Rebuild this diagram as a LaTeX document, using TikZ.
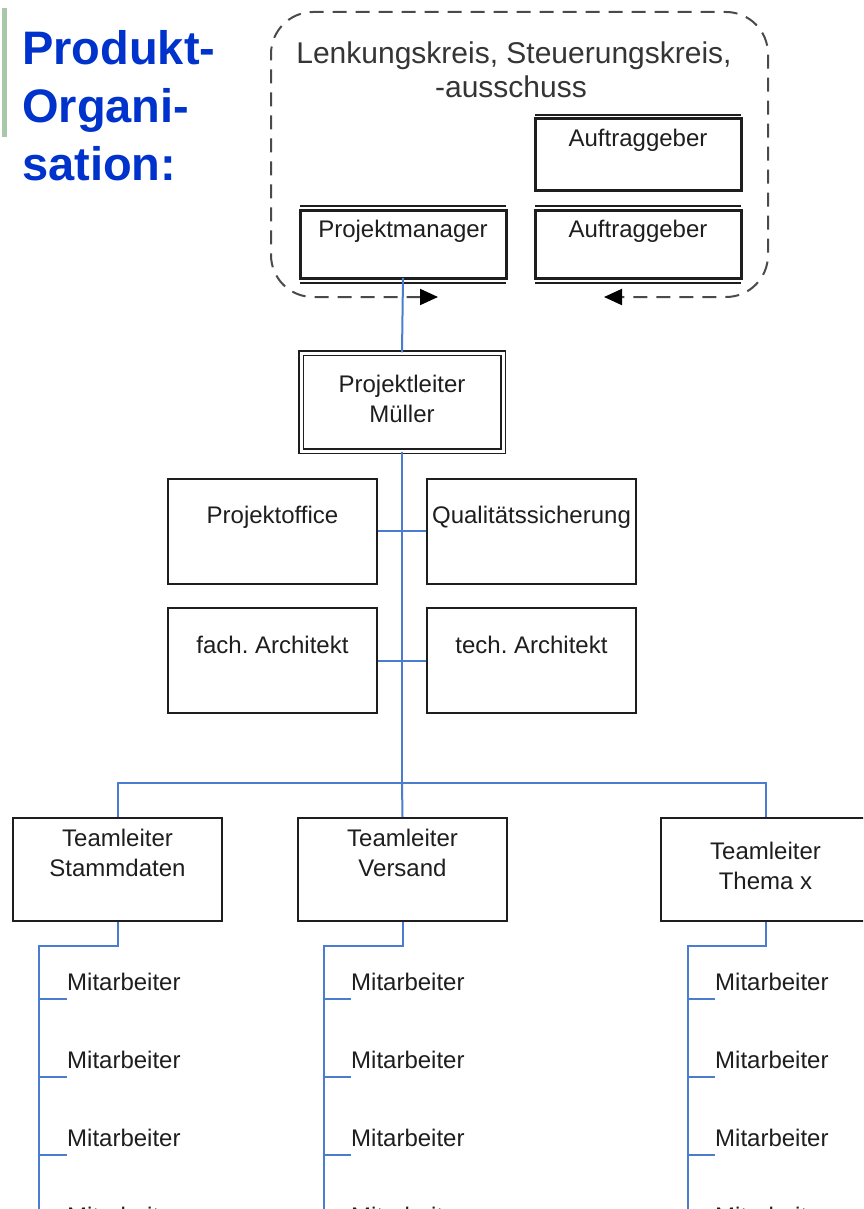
\documentclass[tikz,border=0pt]{standalone}
\usepackage{fontspec}
\setmainfont{Liberation Sans}
\usetikzlibrary{arrows.meta,calc}
\definecolor{ink}{HTML}{1E1E1E}
\definecolor{tieblue}{HTML}{4A7DD0}
\definecolor{titleblue}{HTML}{0033CC}
\definecolor{bargreen}{HTML}{A8C8A8}
\definecolor{dashgray}{HTML}{4A4A4A}
\frenchspacing

\begin{document}
\begin{tikzpicture}[x=1pt,y=-1pt,
  every node/.style={text=ink, font=\fontsize{24}{30}\selectfont},
  orgbox/.style={draw=ink, line width=2pt, minimum width=209pt, minimum height=105pt, inner sep=0pt},
  sponsorbox/.style={draw=ink, line width=3pt, minimum width=206pt, outer sep=0pt, inner sep=0pt},
  leadbox/.style={draw=ink, double, double distance=3pt, line width=1.4pt, minimum width=202pt, minimum height=98pt, inner sep=0pt},
  thinrule/.style={draw=ink, line width=1.5pt},
  tie/.style={draw=tieblue, line width=2pt},
  lbl/.style={anchor=base, inner sep=0pt},
  twolines/.style={align=center, inner sep=0pt},
  staffname/.style={anchor=south west, inner xsep=0pt, inner ysep=8pt, text depth=0pt},
  headline/.style={text=titleblue, font=\fontsize{47}{58}\selectfont\bfseries, anchor=base west, inner sep=0pt},
  steering/.style={draw=dashgray, line width=2pt, dash pattern=on 14pt off 9pt, rounded corners=42pt},
  flowtip/.style={Triangle[length=18pt,width=16pt,color=black]}
]
\clip (0,0) rectangle (863,1209);
\fill[white] (0,0) rectangle (863,1209);

% heading with its side bar
\fill[bargreen] (2,8) rectangle (7,137);
\node[headline] (h1) at (22,65) {Produkt-};
\node[headline] (h2) at (22,123) {Organi-};
\node[headline] (h3) at (22,181) {sation:};

% steering committee
\draw[steering, {Triangle[length=18pt,width=16pt,color=black]}-{Triangle[length=18pt,width=16pt,color=black]}]
  (438,297) -- (271,297) -- (271,12) -- (768,12) -- (768,297) -- (604,297);
\node[lbl, font=\fontsize{30}{34}\selectfont, text=ink!90] (sk1) at (514,64) {Lenkungskreis, Steuerungskreis,};
\node[lbl, font=\fontsize{30}{34}\selectfont, text=ink!90] (sk2) at (511,98) {-ausschuss};

\node[sponsorbox, minimum height=72pt] (ag1) at (638,155) {};
\draw[thinrule] ($(ag1.north west)+(0,-4)$) -- ($(ag1.north east)+(0,-4)$);
\node[lbl] (ag1t) at (638,147) {Auftraggeber};

\node[sponsorbox, minimum height=68pt] (ag2) at (638,244) {};
\draw[thinrule] ($(ag2.north west)+(0,-4)$) -- ($(ag2.north east)+(0,-4)$);
\draw[thinrule] ($(ag2.south west)+(0,5)$) -- ($(ag2.south east)+(0,5)$);
\node[lbl] (ag2t) at (638,237) {Auftraggeber};

\node[sponsorbox, minimum height=68pt] (pm) at (403,244) {};
\draw[thinrule] ($(pm.north west)+(0,-4)$) -- ($(pm.north east)+(0,-4)$);
\draw[thinrule] ($(pm.south west)+(0,5)$) -- ($(pm.south east)+(0,5)$);
\node[lbl] (pmt) at (403,237) {Projektmanager};

% project lead
\node[leadbox] (pl) at (402,402) {};
\node[twolines] (plt) at (402,399) {Projektleiter\\Müller};

% staff functions
\node[orgbox] (po) at (272.5,531) {};
\node[lbl] (pot) at (272.5,523) {Projektoffice};
\node[orgbox] (qs) at (531.5,531) {};
\node[lbl] (qst) at (531.5,523) {Qualitätssicherung};
\node[orgbox] (fa) at (272.5,660.5) {};
\node[lbl] (fat) at (272.5,653) {fach. Architekt};
\node[orgbox] (ta) at (531.5,660.5) {};
\node[lbl] (tat) at (531.5,653) {tech. Architekt};

% team leads
\node[orgbox, minimum height=103pt] (t1) at (117.5,869.5) {};
\node[twolines] (t1t) at (117.5,853) {Teamleiter\\Stammdaten};
\node[orgbox, minimum height=103pt] (t2) at (402.5,869.5) {};
\node[twolines] (t2t) at (402.5,853) {Teamleiter\\Versand};
\node[orgbox, minimum height=103pt] (t3) at (765.5,869.5) {};
\node[twolines] (t3t) at (765.5,866) {Teamleiter\\Thema x};

% reporting lines
\coordinate (hub) at (pl.south |- 0,783);
\draw[tie] (pm.south) -- (pl.north);
\draw[tie] (pl.south) -- (hub);
\draw[tie] (po.east) -- (qs.west);
\draw[tie] (fa.east) -- (ta.west);
\draw[tie] (t1.north) |- (hub) -| (t3.north);
\draw[tie] (hub) -- (t2.north);

% team members
\foreach \c/\trunk/\tx in {1/39/67, 2/324/351, 3/688/715} {
  \draw[tie] (t\c.south) -- ++(0,24) -| (\trunk,1215);
  \foreach \r in {1,...,4} {
    \node[staffname] (m\c\r) at (\tx,{999+78*(\r-1)}) {Mitarbeiter};
    \draw[tie] (\trunk,{999+78*(\r-1)}) -- (m\c\r.south west);
  }
}
\end{tikzpicture}
\end{document}
